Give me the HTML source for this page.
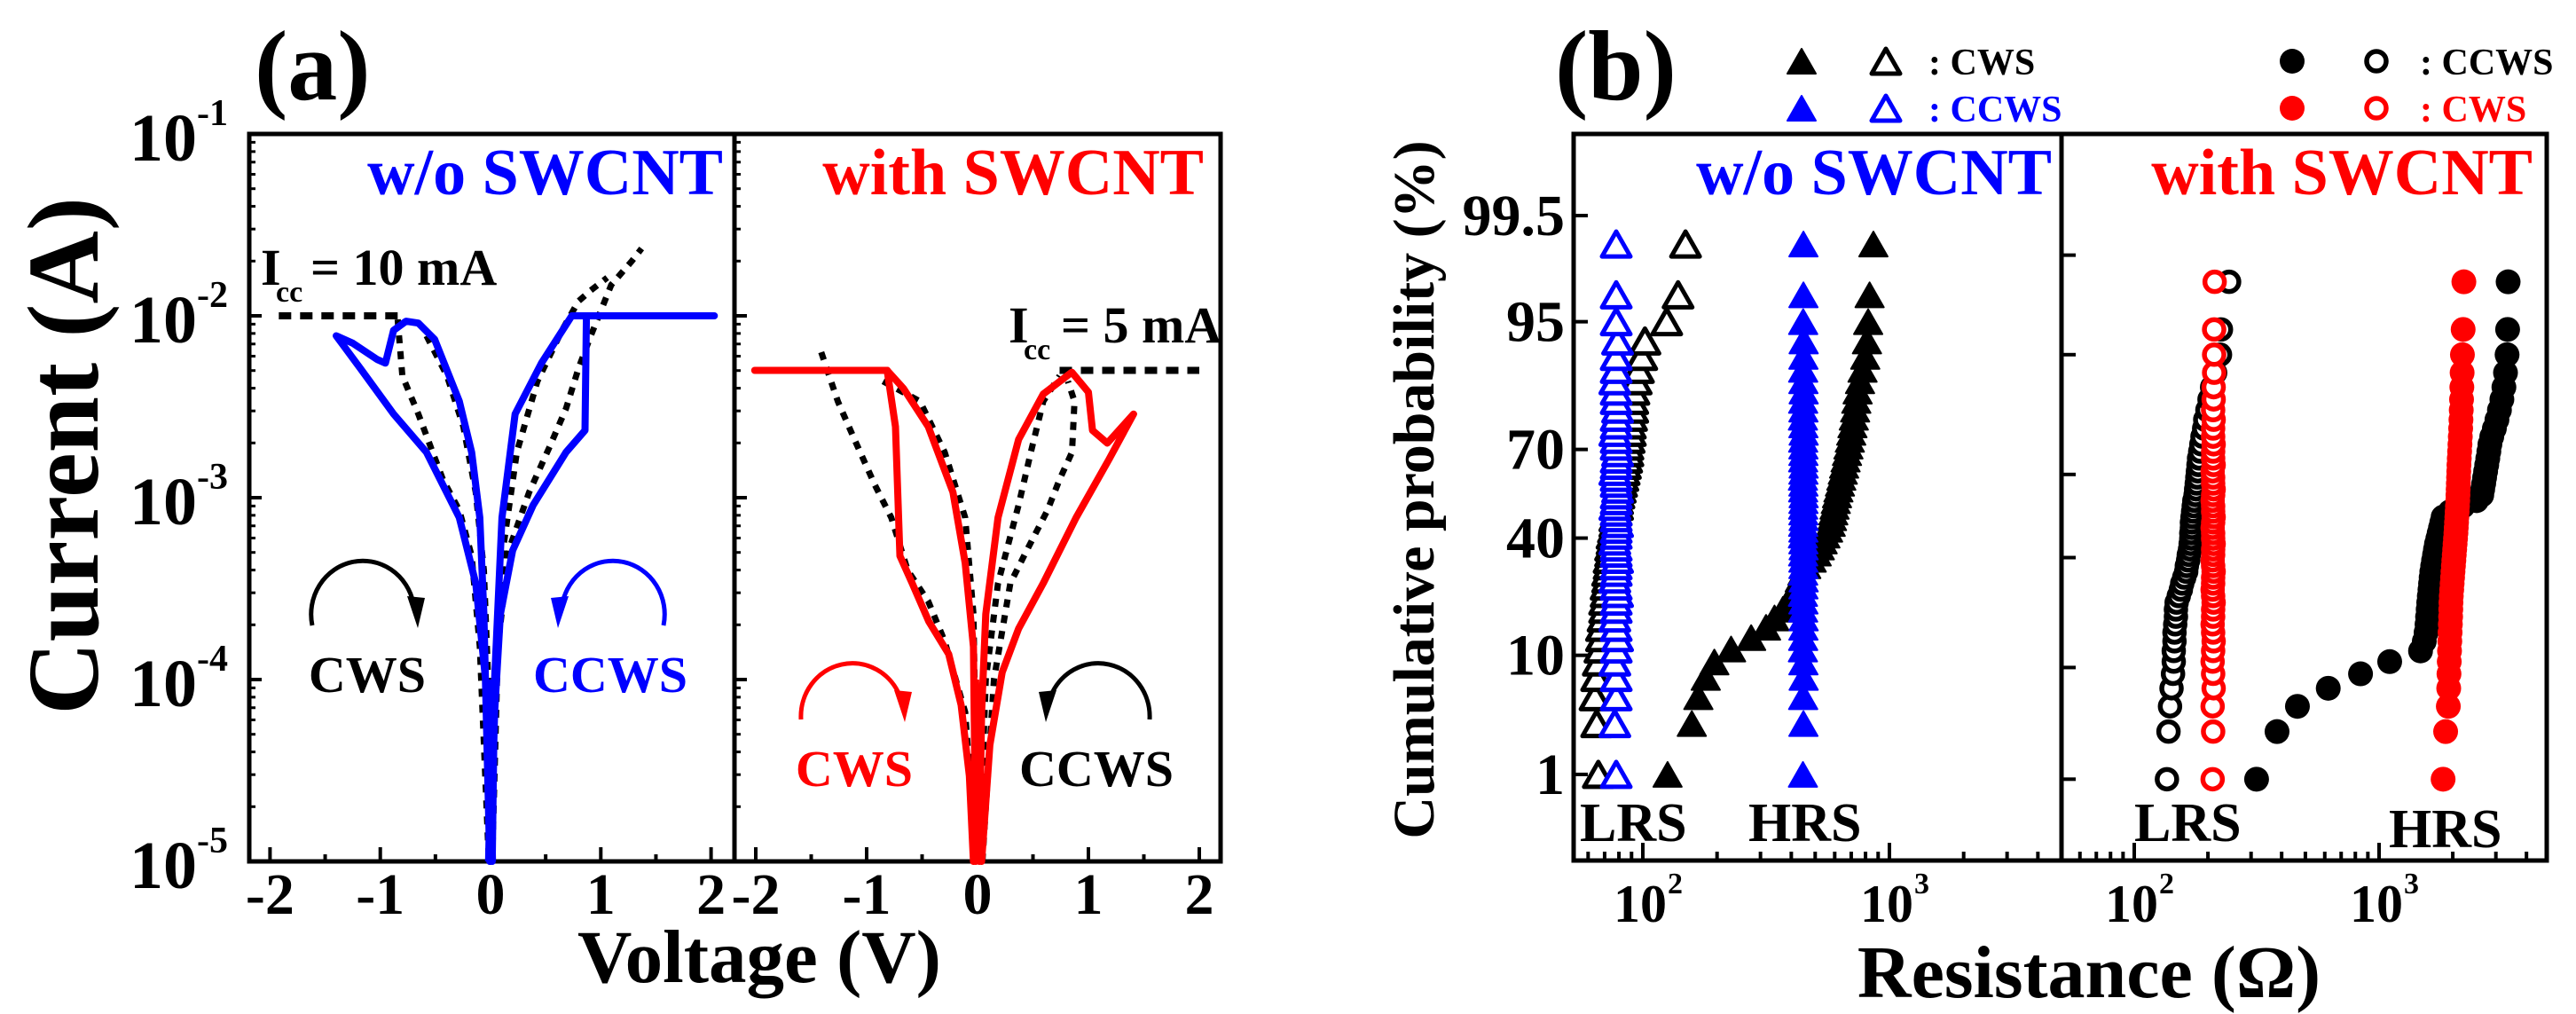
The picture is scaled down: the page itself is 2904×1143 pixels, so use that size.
<!DOCTYPE html>
<html><head><meta charset="utf-8"><title>I-V and resistance distribution</title>
<style>
html,body{margin:0;padding:0;background:#fff;}
svg{display:block;font-family:"Liberation Serif","DejaVu Serif",serif;font-weight:bold;}
</style></head>
<body>
<svg id="fig" xmlns="http://www.w3.org/2000/svg" width="2904" height="1143" viewBox="0 0 2904 1143">
<rect x="0" y="0" width="2904" height="1143" fill="#fff"/>
<g id="pa"></g>
<g id="pb"></g>
</svg>
<script>
// ===== Panel (a) data: voltage (V) and log10 current (A) =====
const blueRightV    = [0,0.037,0.089,0.20,0.387,0.685,0.857,0.87,2.03,0.737,0.462,0.223,0.104,0.037,0.015];
const blueRightLogI = [-5,-4.18,-3.64,-3.29,-3.04,-2.75,-2.63,-2.0,-2.0,-2.0,-2.26,-2.54,-3.11,-4.0,-5];
const blueLeftV     = [-0.007,-0.06,-0.097,-0.171,-0.283,-0.507,-0.655,-0.767,-0.879,-0.953,-1.028,-1.25,-1.40,-1.18,-0.879,-0.581,-0.283,-0.134,-0.045,-0.007];
const blueLeftLogI  = [-5,-3.64,-3.11,-2.75,-2.47,-2.13,-2.04,-2.03,-2.08,-2.26,-2.24,-2.15,-2.11,-2.29,-2.54,-2.75,-3.11,-3.47,-4.0,-5];
const dashA_IccV    = [-1.92,-0.80];
const dashA_IccLogI = [-2,-2];
const dashA_R1V     = [0.015,0.067,0.164,0.35,0.536,0.685,0.797,0.909,1.095,1.28,1.37];
const dashA_R1LogI  = [-5,-3.82,-3.29,-2.97,-2.72,-2.51,-2.29,-2.11,-1.83,-1.70,-1.63];
const dashA_R2V     = [0.007,0.045,0.112,0.238,0.425,0.648,0.797,0.909,1.058];
const dashA_R2LogI  = [-5,-4.0,-3.29,-2.75,-2.36,-2.08,-1.92,-1.86,-1.79];
const dashA_L1V     = [-0.842,-0.80,-0.655,-0.432,-0.283,-0.171,-0.097,-0.015];
const dashA_L1LogI  = [-2.02,-2.33,-2.54,-2.90,-3.07,-3.32,-3.82,-5];
const dashA_L2V     = [-0.581,-0.395,-0.246,-0.134,-0.06,-0.022,-0.007];
const dashA_L2LogI  = [-2.11,-2.33,-2.61,-2.97,-3.40,-4.0,-5];

const redFlatV      = [-2.01,-0.815];
const redFlatLogI   = [-2.30,-2.30];
const red1V         = [-0.815,-0.74,-0.70,-0.59,-0.44,-0.26,-0.148,-0.074,-0.037];
const red1LogI      = [-2.30,-2.61,-3.32,-3.47,-3.68,-3.86,-4.14,-4.53,-5];
const red2V         = [-0.815,-0.667,-0.444,-0.222,-0.111,-0.037,-0.015];
const red2LogI      = [-2.30,-2.40,-2.61,-2.97,-3.36,-3.82,-5];
const red3V         = [0.015,0.037,0.074,0.185,0.37,0.593,0.85,1.0,1.037,1.17,1.407,1.185,0.889,0.593,0.37,0.222,0.111,0.037];
const red3LogI      = [-5,-4.18,-3.64,-3.11,-2.68,-2.43,-2.31,-2.42,-2.63,-2.70,-2.54,-2.79,-3.11,-3.47,-3.72,-3.96,-4.36,-5];
const dashB_IccV    = [0.74,2.0];
const dashB_IccLogI = [-2.30,-2.30];
const dashB_LaV     = [-1.41,-1.26,-1.11,-0.926,-0.778,-0.63,-0.444,-0.296,-0.111,-0.015];
const dashB_LaLogI  = [-2.20,-2.47,-2.68,-2.93,-3.11,-3.40,-3.57,-3.79,-4.18,-5];
const dashB_LbV     = [-0.852,-0.519,-0.296,-0.111,-0.037,0];
const dashB_LbLogI  = [-2.36,-2.47,-2.75,-3.11,-3.64,-5];
const dashB_RaV     = [0.015,0.074,0.185,0.37,0.481,0.593,0.74];
const dashB_RaLogI  = [-5,-4.0,-3.47,-3.04,-2.75,-2.47,-2.33];
const dashB_RbV     = [0.044,0.148,0.296,0.444,0.63,0.74,0.852,0.874,0.815];
const dashB_RbLogI  = [-5,-4.0,-3.47,-3.29,-3.07,-2.90,-2.75,-2.47,-2.36];

const voltTicks = [-2,-1,0,1,2];
const voltTickLabels = ["-2","-1","0","1","2"];
const decadeTicks = [-1,-2,-3,-4,-5];
const decadeLabels = ["-1","-2","-3","-4","-5"];

// ===== Panel (b) data: resistance (ohm), cumulative probability ranks =====
const probLevels = [1,3,5,7,9,11,13,15,17,19,21,23,25,27,29,31,33,35,37,39,41,43,45,47,49,51,53,55,57,59,61,63,65,67,69,71,73,75,77,79,81,83,85,87,89,91,93,95,97,99];
const probTicks = [99.5,95,70,40,10,1];
const probTickLabels = ["99.5","95","70","40","10","1"];
const woCwsLRS  = [66,65,64,65,66,67,68,68,69,70,70,71,71,72,72,73,73,74,74,75,75,76,77,77,78,79,79,80,81,82,83,84,85,86,87,87,88,89,89,90,91,91,92,94,96,99,102,125,139,149];
const woCcwsLRS = [78,77,78,78,77,78,79,78,77,78,78,79,78,77,78,78,79,78,78,77,78,78,79,78,78,77,78,78,79,78,78,77,78,78,79,78,78,77,78,78,79,78,78,77,78,78,79,78,78,78];
const woCwsHRS  = [126,158,168,180,195,228,275,316,342,370,390,406,422,433,444,460,484,507,522,536,550,564,578,585,592,599,606,613,621,630,638,647,655,664,673,682,691,700,708,717,726,734,743,760,778,798,811,820,831,861];
const woCcwsHRS = [446,448,447,449,448,446,447,448,449,447,448,446,448,449,447,448,448,447,449,448,446,448,447,449,448,447,448,449,447,448,446,448,449,447,448,448,447,449,448,446,448,447,449,448,447,448,449,447,448,448];
const wCcwsLRS  = [136,138,140,142,144,145,145,146,146,147,148,148,149,152,155,157,160,163,164,166,167,169,170,171,171,172,172,173,174,175,176,178,179,180,181,182,183,184,186,188,190,193,195,199,203,208,214,224,226,244];
const wCwsLRS   = [209,210,209,211,210,209,210,211,210,209,210,210,211,210,209,210,210,211,210,209,210,210,211,210,210,209,210,211,210,210,209,210,211,210,210,209,211,210,210,211,210,210,211,210,211,211,212,212,212,213];
const wCcwsHRS  = [316,383,464,620,840,1105,1477,1530,1556,1570,1578,1587,1595,1604,1614,1623,1632,1642,1656,1670,1685,1700,1716,1738,1760,1782,1804,1826,1950,2200,2500,2627,2650,2675,2698,2724,2752,2780,2808,2836,2886,2958,3030,3102,3174,3235,3284,3333,3350,3366];
const wCwsHRS   = [1826,1870,1918,1925,1930,1935,1940,1945,1950,1955,1960,1963,1966,1972,1980,1988,1996,2004,2012,2020,2028,2036,2044,2052,2060,2066,2072,2078,2084,2090,2096,2100,2104,2108,2112,2116,2120,2126,2133,2140,2147,2154,2160,2166,2172,2178,2184,2190,2205,2220];

// ===== helpers =====
const NS = "http://www.w3.org/2000/svg";
function mk(tag, attrs, parent){
  const e = document.createElementNS(NS, tag);
  for (const k in attrs) e.setAttribute(k, attrs[k]);
  parent.appendChild(e);
  return e;
}
const pa = document.getElementById('pa');
const pb = document.getElementById('pb');

const yA = l => 151 + 205 * (-1 - l);
const xA1 = v => 553 + 124.3 * v;
const xA2 = v => 1102 + 125 * v;
function invNorm(p){
  const a=[-39.69683028665376,220.9460984245205,-275.9285104469687,138.3577518672690,-30.66479806614716,2.506628277459239];
  const b=[-54.47609879822406,161.5858368580409,-155.6989798598866,66.80131188771972,-13.28068155288572];
  const c=[-0.007784894002430293,-0.3223964580411365,-2.400758277161838,-2.549732539343734,4.374664141464968,2.938163982698783];
  const d=[0.007784695709041462,0.3224671290700398,2.445134137142996,3.754408661907416];
  const pl=0.02425; let q,r;
  if(p<pl){q=Math.sqrt(-2*Math.log(p));return (((((c[0]*q+c[1])*q+c[2])*q+c[3])*q+c[4])*q+c[5])/((((d[0]*q+d[1])*q+d[2])*q+d[3])*q+1);}
  if(p>1-pl){q=Math.sqrt(-2*Math.log(1-p));return -(((((c[0]*q+c[1])*q+c[2])*q+c[3])*q+c[4])*q+c[5])/((((d[0]*q+d[1])*q+d[2])*q+d[3])*q+1);}
  q=p-0.5;r=q*q;return (((((a[0]*r+a[1])*r+a[2])*r+a[3])*r+a[4])*r+a[5])*q/(((((b[0]*r+b[1])*r+b[2])*r+b[3])*r+b[4])*r+1);
}
const yB1 = p => 574 - 128.5 * invNorm(p/100);
const yB2 = p => 598 - 120.5 * invNorm(p/100);
const xB1 = R => 1852 + 278 * (Math.log10(R) - 2);
const xB2 = R => 2406 + 276 * (Math.log10(R) - 2);

function poly(parent, xs, ys, fx, stroke, width, dash, name){
  let d = xs.map((v,i)=>(i?'L':'M')+fx(v).toFixed(1)+','+yA(ys[i]).toFixed(1)).join(' ');
  const p = mk('path',{d:d,fill:'none',stroke:stroke,'stroke-width':width,'stroke-linejoin':'round','stroke-linecap':dash?'butt':'round'},parent);
  if(dash) p.setAttribute('stroke-dasharray',dash);
  
  
  return p;
}
function txt(parent, x, y, s, size, fill, anchor, name){
  const t = mk('text',{x:x,y:y,'font-size':size,fill:fill||'#000','text-anchor':anchor||'start'},parent);
  t.textContent = s;
  
  
  return t;
}

// ===== Panel (a) frames and axes =====
txt(pa, 287, 112, "(a)", 112, '#000', 'start', 'panel-a-label');
const fa = mk('rect',{x:281,y:151,width:1095,height:820,fill:'none',stroke:'#000','stroke-width':5},pa);


const divA = mk('line',{x1:828,y1:151,x2:828,y2:971,stroke:'#000','stroke-width':5},pa);



[[xA1,281],[xA2,828]].forEach(([fx,x0],pi)=>{
  voltTicks.forEach((v,i)=>{
    const t = mk('line',{x1:fx(v),y1:971,x2:fx(v),y2:955,stroke:'#000','stroke-width':4},pa);
    
    
    txt(pa, fx(v), 1030, voltTickLabels[i], 66, '#000', 'middle', 'x-tick-label');
    if(i<voltTicks.length-1){
      const m = mk('line',{x1:fx(v+0.5),y1:971,x2:fx(v+0.5),y2:963,stroke:'#000','stroke-width':4},pa);
      
      
    }
  });
  decadeTicks.forEach((l)=>{
    const t = mk('line',{x1:x0,y1:yA(l),x2:x0+14,y2:yA(l),stroke:'#000','stroke-width':4},pa);
    
    
    if(l>-5){ for(let k=2;k<10;k++){
      const yy=yA(l-1+Math.log10(k));
      const m = mk('line',{x1:x0,y1:yy,x2:x0+7,y2:yy,stroke:'#000','stroke-width':3},pa);
      
      
    }}
  });
});
decadeTicks.forEach((l,i)=>{
  txt(pa, 222, yA(l)+30, "10", 76, '#000', 'end', 'y-tick-label');
  txt(pa, 222, yA(l)-10, decadeLabels[i], 42, '#000', 'start', 'y-tick-exponent');
});
const ytA = txt(pa, 0, 0, "Current (A)", 114, '#000', 'middle', 'y-axis-title');
ytA.setAttribute('transform','translate(110,514) rotate(-90)');
txt(pa, 856, 1107, "Voltage (V)", 85, '#000', 'middle', 'x-axis-title');
txt(pa, 815, 219, "w/o SWCNT", 74, '#0000ff', 'end', 'panel-a-left-title');
txt(pa, 1357, 219, "with SWCNT", 74, '#ff0000', 'end', 'panel-a-right-title');
txt(pa, 294, 321, "I", 58, '#000', 'start', 'icc-10ma-label');
txt(pa, 311, 340, "cc", 34, '#000', 'start', 'icc-subscript');
txt(pa, 350, 321, "= 10 mA", 58, '#000', 'start', 'icc-10ma-value');
txt(pa, 1137, 386, "I", 58, '#000', 'start', 'icc-5ma-label');
txt(pa, 1154, 405, "cc", 34, '#000', 'start', 'icc-subscript');
txt(pa, 1196, 386, "= 5 mA", 58, '#000', 'start', 'icc-5ma-value');
txt(pa, 414, 780, "CWS", 58, '#000', 'middle', 'cws-label-left');
txt(pa, 688, 780, "CCWS", 58, '#0000ff', 'middle', 'ccws-label-left');
txt(pa, 963, 886, "CWS", 58, '#ff0000', 'middle', 'cws-label-right');
txt(pa, 1236, 886, "CCWS", 58, '#000', 'middle', 'ccws-label-right');

function arrow(d, tip, b1, b2, col, name){
  const g = mk('g',{},pa);
  
  
  mk('path',{d:d,fill:'none',stroke:col,'stroke-width':5},g);
  mk('polygon',{points:tip+' '+b1+' '+b2,fill:col},g);
}
arrow('M352,705 A58,60 0 0 1 466,680','471,708','459,672','479,674','#000','cws-arrow-left');
arrow('M748,705 A58,60 0 0 0 634,680','629,708','621,674','641,672','#0000ff','ccws-arrow-left');
arrow('M903,811 A58,60 0 0 1 1015,786','1020,814','1008,778','1028,780','#ff0000','cws-arrow-right');
arrow('M1296,811 A58,60 0 0 0 1184,786','1179,814','1171,780','1191,778','#000','ccws-arrow-right');

const dA='9,9';
poly(pa, dashA_IccV, dashA_IccLogI, xA1, '#000', 8, '14,10', 'icc-line-left');
poly(pa, dashA_R1V, dashA_R1LogI, xA1, '#000', 7, dA, 'dashed-curve-left-r1');
poly(pa, dashA_R2V, dashA_R2LogI, xA1, '#000', 7, dA, 'dashed-curve-left-r2');
poly(pa, dashA_L1V, dashA_L1LogI, xA1, '#000', 7, dA, 'dashed-curve-left-l1');
poly(pa, dashA_L2V, dashA_L2LogI, xA1, '#000', 7, dA, 'dashed-curve-left-l2');
poly(pa, blueRightV, blueRightLogI, xA1, '#0000ff', 8, null, 'blue-iv-right-branch');
poly(pa, blueLeftV, blueLeftLogI, xA1, '#0000ff', 8, null, 'blue-iv-left-branch');
const sp1 = mk('polygon',{points:`${xA1(-0.05)},${yA(-5)} ${xA1(0.05)},${yA(-5)} ${xA1(0.015)},${yA(-4)} ${xA1(-0.015)},${yA(-4)}`,fill:'#0000ff'},pa);



poly(pa, dashB_IccV, dashB_IccLogI, xA2, '#000', 8, '14,10', 'icc-line-right');
poly(pa, dashB_LaV, dashB_LaLogI, xA2, '#000', 7, dA, 'dashed-curve-right-la');
poly(pa, dashB_LbV, dashB_LbLogI, xA2, '#000', 7, dA, 'dashed-curve-right-lb');
poly(pa, dashB_RaV, dashB_RaLogI, xA2, '#000', 7, dA, 'dashed-curve-right-ra');
poly(pa, dashB_RbV, dashB_RbLogI, xA2, '#000', 7, dA, 'dashed-curve-right-rb');
poly(pa, redFlatV, redFlatLogI, xA2, '#ff0000', 8, null, 'red-compliance-line');
poly(pa, red1V, red1LogI, xA2, '#ff0000', 8, null, 'red-iv-left-outer');
poly(pa, red2V, red2LogI, xA2, '#ff0000', 8, null, 'red-iv-left-inner');
poly(pa, red3V, red3LogI, xA2, '#ff0000', 8, null, 'red-iv-right-loop');
const sp2 = mk('polygon',{points:`${xA2(-0.05)},${yA(-5)} ${xA2(0.05)},${yA(-5)} ${xA2(0.015)},${yA(-4)} ${xA2(-0.015)},${yA(-4)}`,fill:'#ff0000'},pa);



// ===== Panel (b) =====
txt(pb, 1753, 112, "(b)", 112, '#000', 'start', 'panel-b-label');
const fb = mk('rect',{x:1774,y:151,width:1097,height:819,fill:'none',stroke:'#000','stroke-width':5},pb);


const divB = mk('line',{x1:2324,y1:151,x2:2324,y2:970,stroke:'#000','stroke-width':5},pb);



[[xB1,1774,2324,yB1],[xB2,2324,2871,yB2]].forEach(([fx,xl,xr,fy],pi)=>{
  for(let e=1;e<=3;e++){ for(let k=1;k<10;k++){
    const R=k*Math.pow(10,e); const x=fx(R);
    if(x<=xl+4||x>=xr-4) continue;
    const t = mk('line',{x1:x,y1:970,x2:x,y2:k===1?950:960,stroke:'#000','stroke-width':4},pb);
    
    
  }}
  [2,3].forEach(e=>{
    const x=fx(Math.pow(10,e));
    txt(pb, x-3, 1039, "10", 60, '#000', 'middle', 'x-tick-label');
    txt(pb, x+28, 1007, String(e), 34, '#000', 'start', 'x-tick-exponent');
  });
  probTicks.forEach((p,i)=>{
    const t = mk('line',{x1:xl,y1:fy(p),x2:xl+16,y2:fy(p),stroke:'#000','stroke-width':4},pb);
    
    
    if(pi===0) txt(pb, 1764, fy(p)+22, probTickLabels[i], 66, '#000', 'end', 'y-tick-label');
  });
});
const ytB = txt(pb, 0, 0, "Cumulative probability (%)", 66, '#000', 'middle', 'y-axis-title-b');
ytB.setAttribute('transform','translate(1616,552) rotate(-90)');
txt(pb, 2355, 1124, "Resistance (\u03A9)", 84, '#000', 'middle', 'x-axis-title-b');
txt(pb, 2313, 219, "w/o SWCNT", 74, '#0000ff', 'end', 'panel-b-left-title');
txt(pb, 2855, 219, "with SWCNT", 74, '#ff0000', 'end', 'panel-b-right-title');
txt(pb, 1781, 948, "LRS", 62, '#000', 'start', 'lrs-label-left');
txt(pb, 1971, 948, "HRS", 62, '#000', 'start', 'hrs-label-left');
txt(pb, 2406, 948, "LRS", 62, '#000', 'start', 'lrs-label-right');
txt(pb, 2693, 955, "HRS", 62, '#000', 'start', 'hrs-label-right');

function tri(parent, cx, cy, col, filled){
  const w=16, h=28;
  return mk('polygon',{points:`${cx-w},${cy+h/2} ${cx+w},${cy+h/2} ${cx},${cy-h/2}`,
    fill:filled?col:'#fff',stroke:col,'stroke-width':filled?2:5,'stroke-linejoin':'round'},parent);
}
function circ(parent, cx, cy, col, filled){
  return mk('circle',{cx:cx,cy:cy,r:filled?14:11,fill:filled?col:'#fff',stroke:col,'stroke-width':filled?0:5.5},parent);
}
function series(vals, fx, fy, col, filled, shape, name){
  const g = mk('g',{},pb);
  
  
  vals.forEach((R,i)=>{
    const m = shape==='tri' ? tri(g, fx(R), fy(probLevels[i]), col, filled) : circ(g, fx(R), fy(probLevels[i]), col, filled);
    
    
  });
}
series(woCwsLRS, xB1, yB1, '#000', false, 'tri', 'wo-cws-lrs');
series(woCcwsLRS, xB1, yB1, '#0000ff', false, 'tri', 'wo-ccws-lrs');
series(woCwsHRS, xB1, yB1, '#000', true, 'tri', 'wo-cws-hrs');
series(woCcwsHRS, xB1, yB1, '#0000ff', true, 'tri', 'wo-ccws-hrs');
series(wCcwsLRS, xB2, yB2, '#000', false, 'circ', 'w-ccws-lrs');
series(wCwsLRS, xB2, yB2, '#ff0000', false, 'circ', 'w-cws-lrs');
series(wCcwsHRS, xB2, yB2, '#000', true, 'circ', 'w-ccws-hrs');
series(wCwsHRS, xB2, yB2, '#ff0000', true, 'circ', 'w-cws-hrs');

const lg = mk('g',{},pb);


let le;
le=tri(lg,2031,69,'#000',true);  
le=tri(lg,2126,69,'#000',false);  
txt(lg, 2174, 84, ": CWS", 42, '#000', 'start', 'legend-entry-cws');
le=tri(lg,2031,122,'#0000ff',true);  
le=tri(lg,2126,122,'#0000ff',false);  
txt(lg, 2174, 137, ": CCWS", 42, '#0000ff', 'start', 'legend-entry-ccws');
le=circ(lg,2584,69,'#000',true);  
le=circ(lg,2679,69,'#000',false);  
txt(lg, 2728, 84, ": CCWS", 42, '#000', 'start', 'legend-entry-w-ccws');
le=circ(lg,2584,122,'#ff0000',true);  
le=circ(lg,2679,122,'#ff0000',false);  
txt(lg, 2728, 137, ": CWS", 42, '#ff0000', 'start', 'legend-entry-w-cws');
</script>
</body></html>
